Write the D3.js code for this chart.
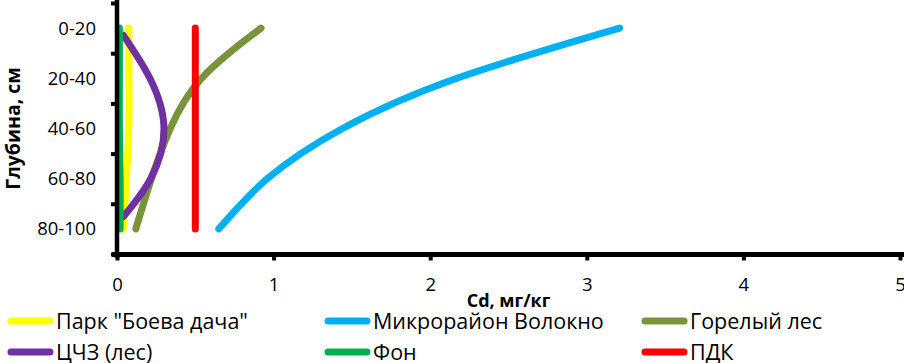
<!DOCTYPE html>
<html>
<head>
<meta charset="utf-8">
<script src="https://cdn.jsdelivr.net/npm/d3@7"></script>
<style>
  body { margin: 0; background: #fff; }
  text { font-family: 'Open Sans', sans-serif; fill: #000; }
</style>
</head>
<body>
<svg id="chart" width="904" height="363"></svg>
<script>
// depth bands, top to bottom
const depths = ['0-20', '20-40', '40-60', '60-80', '80-100'];
const depthPos = [0.5, 1.5, 2.5, 3.5, 4.5];
const purplePos = [0.64, 1.5, 2.5, 3.5, 4.26];   // ЦЧЗ curve ends a bit inside the bands

// Cd, mg/kg for each depth
const park = [0.075, 0.076, 0.075, 0.06, 0.04];
const volokno = [3.21, 2.17, 1.44, 0.96, 0.65];
const gorely = [0.92, 0.54, 0.34, 0.22, 0.12];
const czz = [0.04, 0.21, 0.30, 0.215, 0.04];
const fon = [0.015, 0.015, 0.015, 0.02, 0.02];
const pdk = [0.5, 0.5, 0.5, 0.5, 0.5];

const xTicks = [0, 1, 2, 3, 4, 5];

const series = [
    { name: 'Парк "Боева дача"', values: park, pos: depthPos, color: '#FFFF00' },
    { name: 'Микрорайон Волокно', values: volokno, pos: depthPos, color: '#00B0F0' },
    { name: 'Горелый лес', values: gorely, pos: depthPos, color: '#77933C' },
    { name: 'ЦЧЗ (лес)', values: czz, pos: purplePos, color: '#7030A0' },
    { name: 'Фон', values: fon, pos: depthPos, color: '#00B050' },
    { name: 'ПДК', values: pdk, pos: depthPos, color: '#FF0000' }
];

const svg = d3.select('#chart');

const xScale = d3.scaleLinear().domain([0, 5]).range([117, 900]);
const yScale = d3.scaleLinear().domain([0, 5]).range([3, 254]);

// smoothed lines (later ones drawn on top)
const line = d3.line()
    .x(d => xScale(d[0]))
    .y(d => yScale(d[1]))
    .curve(d3.curveNatural);

const drawOrder = [1, 2, 5, 0, 3, 4];
drawOrder.forEach(i => {
    const s = series[i];
    svg.append('path')
        .datum(s.values.map((v, j) => [v, s.pos[j]]))
        .attr('d', line)
        .attr('fill', 'none')
        .attr('stroke', s.color)
        .attr('stroke-width', 7)
        .attr('stroke-linecap', 'round');
});

// y axis
const yAxis = d3.axisLeft(yScale)
    .tickValues([0, 1, 2, 3, 4, 5])
    .tickSize(6)
    .tickFormat('');
const yAxisGroup = svg.append('g')
    .attr('transform', `translate(${xScale(0)},0)`)
    .call(yAxis);
yAxisGroup.select('.domain').remove();
yAxisGroup.selectAll('line').attr('stroke', '#000').attr('stroke-width', 4);
svg.append('line')
    .attr('x1', xScale(0)).attr('x2', xScale(0))
    .attr('y1', 0).attr('y2', 258)
    .attr('stroke', '#000').attr('stroke-width', 4.5);

svg.selectAll('.depth-label').data(depths)
    .enter().append('text')
        .attr('class', 'depth-label')
        .attr('x', 96)
        .attr('y', (d, i) => yScale(depthPos[i]))
        .attr('dy', '0.35em')
        .attr('text-anchor', 'end')
        .style('font-size', '18.5px')
        .text(d => d);

// x axis
const xAxis = d3.axisBottom(xScale)
    .tickValues(xTicks)
    .tickSize(6)
    .tickPadding(17)
    .tickFormat(d3.format('d'));
const xAxisGroup = svg.append('g')
    .attr('transform', `translate(0,${yScale(5) + 0.5})`)
    .call(xAxis);
xAxisGroup.select('.domain').remove();
xAxisGroup.selectAll('line').attr('stroke', '#000').attr('stroke-width', 4);
xAxisGroup.selectAll('text')
    .style('font-size', '18.5px')
    .style('font-family', "'Open Sans', sans-serif")
    .attr('fill', '#000');
svg.append('line')
    .attr('x1', 112).attr('x2', 904)
    .attr('y1', yScale(5) + 0.5).attr('y2', yScale(5) + 0.5)
    .attr('stroke', '#000').attr('stroke-width', 5);

// axis titles
svg.append('text')
    .attr('x', (xScale(0) + xScale(5)) / 2)
    .attr('y', 301)
    .attr('dy', '0.35em')
    .attr('text-anchor', 'middle')
    .style('font-size', '18px')
    .style('font-weight', 'bold')
    .text('Cd, мг/кг');

svg.append('text')
    .attr('transform', `translate(13,${yScale(2.5)}) rotate(-90)`)
    .attr('dy', '0.35em')
    .attr('text-anchor', 'middle')
    .style('font-size', '19.5px')
    .style('font-weight', 'bold')
    .text('Глубина, см');

// legend
const legendX = [8, 325, 642];
const legendY = [321, 352];
const legend = svg.selectAll('.legend').data(series)
    .enter().append('g')
        .attr('class', 'legend')
        .attr('transform', (d, i) => `translate(${legendX[i % 3]},${legendY[Math.floor(i / 3)]})`);
legend.append('line')
    .attr('x1', 3).attr('x2', 42)
    .attr('stroke', d => d.color)
    .attr('stroke-width', 7)
    .attr('stroke-linecap', 'round');
legend.append('text')
    .attr('x', 48)
    .attr('dy', '0.35em')
    .style('font-size', '21.5px')
    .text(d => d.name);
</script>
</body>
</html>
